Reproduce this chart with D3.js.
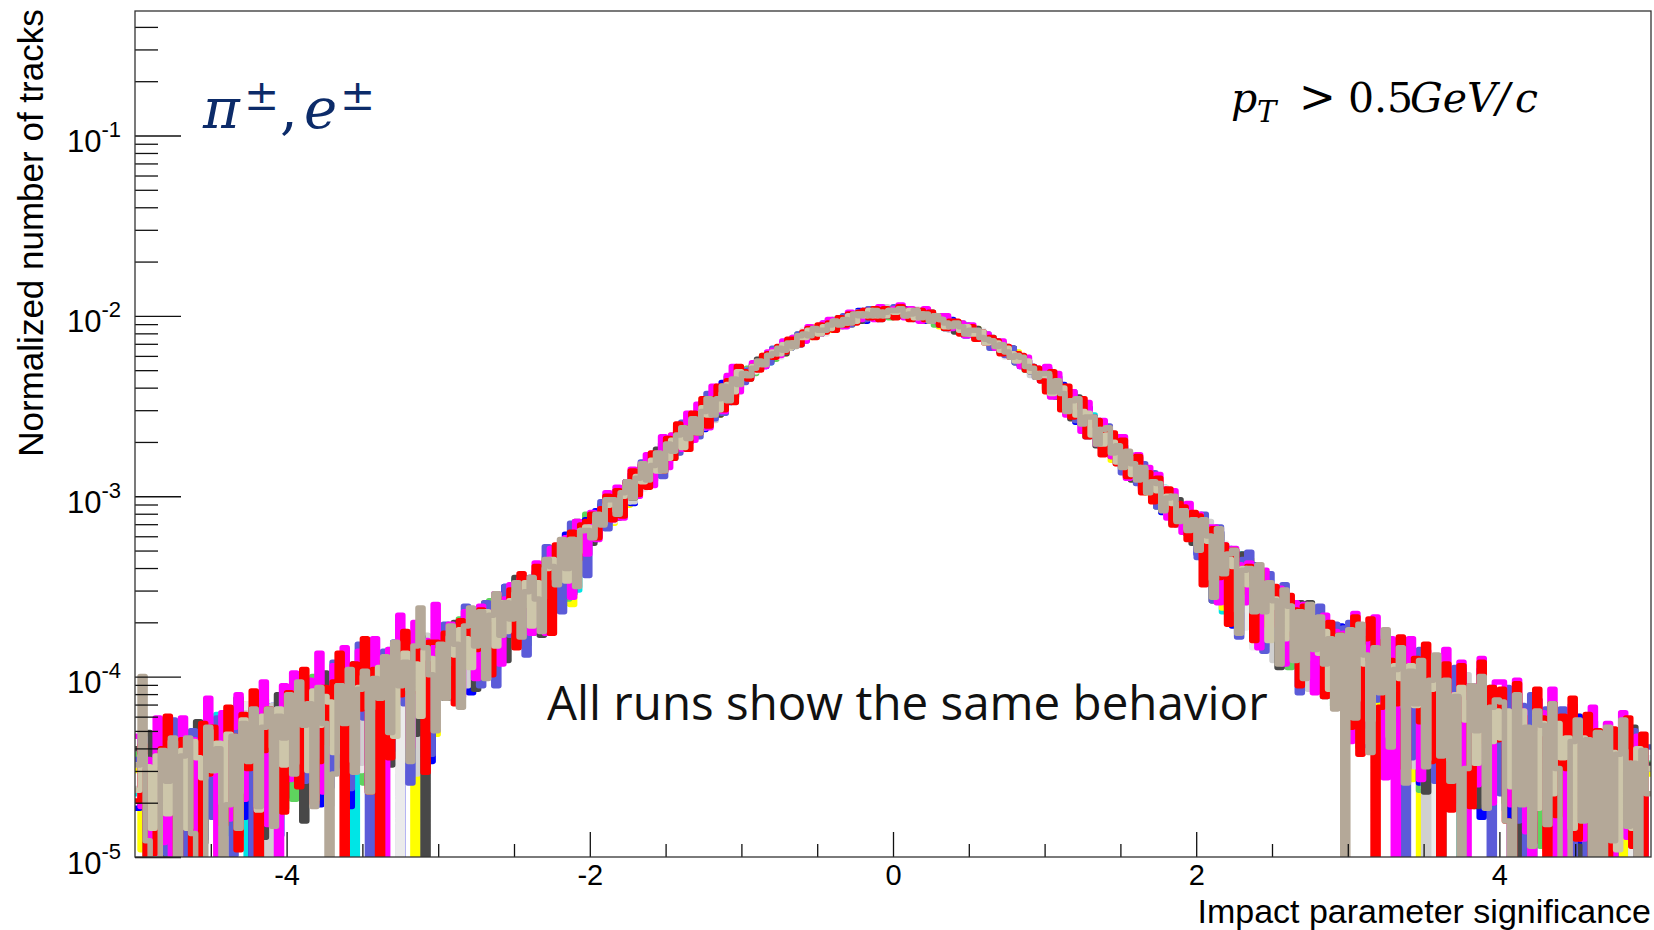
<!DOCTYPE html>
<html>
<head>
<meta charset="utf-8">
<script src="https://cdn.jsdelivr.net/npm/d3@7"></script>
<style>
  body { margin: 0; background: #fff; }
  svg { display: block; }
  .tick line { stroke: #111; stroke-width: 1.3; }
</style>
</head>
<body>
<svg id="chart" width="1654" height="930"></svg>
<script>
// empty bin marker (zero content, drawn down to the frame bottom)
const Z = null;

const xRange = [-5, 5];
const nBins = 300;
const yRange = [1e-5, 0.49];
const xMajorTicks = [-4, -2, 0, 2, 4];
const xMinorTicks = [-4.5, -3.5, -3, -2.5, -1.5, -1, -0.5, 0.5, 1, 1.5, 2.5, 3, 3.5, 4.5];
const yMajorTicks = [1e-5, 1e-4, 1e-3, 1e-2, 1e-1];
const yMinorTicks = [2e-5, 3e-5, 4e-5, 5e-5, 6e-5, 7e-5, 8e-5, 9e-5,
  2e-4, 3e-4, 4e-4, 5e-4, 6e-4, 7e-4, 8e-4, 9e-4,
  2e-3, 3e-3, 4e-3, 5e-3, 6e-3, 7e-3, 8e-3, 9e-3,
  2e-2, 3e-2, 4e-2, 5e-2, 6e-2, 7e-2, 8e-2, 9e-2,
  0.2, 0.3, 0.4];

// common shape of the distribution, log10(value) x 100, one entry per bin
const profile = [
  -457,-456,-455,-454,-453,-452,  -452,-451,-450,-449,-448,-447,
  -447,-446,-444,-444,-443,-442,  -441,-439,-438,-438,-437,-436,
  -434,-433,-432,-431,-430,-429,  -427,-426,-425,-424,-424,-422,
  -421,-420,-419,-418,-417,-416,  -414,-413,-412,-411,-410,-409,
  -407,-406,-405,-403,-402,-401,  -399,-398,-396,-395,-393,-392,
  -390,-388,-386,-385,-383,-381,  -379,-377,-375,-373,-371,-369,
  -367,-365,-363,-360,-358,-356,  -354,-351,-349,-346,-344,-341,
  -338,-335,-332,-328,-325,-322,  -319,-316,-313,-310,-307,-304,
  -302,-299,-296,-293,-290,-287,  -285,-282,-279,-276,-273,-270,
  -268,-265,-262,-259,-256,-253,  -251,-248,-245,-242,-239,-236,
  -234,-232,-230,-227,-225,-223,  -221,-220,-218,-216,-215,-213,
  -211,-210,-209,-208,-207,-206,  -205,-204,-203,-202,-201,-200,
  -200,-199,-199,-199,-198,-198,
  -198,-198,-199,-199,-199,-200,
  -200,-201,-202,-203,-204,-205,  -206,-207,-208,-209,-210,-211,
  -213,-215,-216,-218,-220,-221,  -223,-225,-227,-230,-232,-234,
  -236,-239,-242,-245,-248,-251,  -253,-256,-259,-262,-265,-268,
  -270,-273,-276,-279,-282,-285,  -287,-290,-293,-296,-299,-302,
  -304,-307,-310,-313,-316,-319,  -322,-325,-328,-332,-335,-338,
  -341,-344,-346,-349,-351,-354,  -356,-358,-360,-363,-365,-367,
  -369,-371,-373,-375,-377,-379,  -381,-383,-385,-386,-388,-390,
  -392,-393,-395,-396,-398,-399,  -401,-402,-403,-405,-406,-407,
  -409,-410,-411,-412,-413,-414,  -416,-417,-418,-419,-420,-421,
  -422,-424,-424,-425,-426,-427,  -429,-430,-431,-432,-433,-434,
  -436,-437,-438,-438,-439,-441,  -442,-443,-444,-444,-446,-447,
  -447,-448,-449,-450,-451,-452,  -452,-453,-454,-455,-456,-457
];

// per-run offsets from the common shape, log10 x 100, 30 bins per row (one unit of x)
const devCyan = [
  -8,6,-40,Z,10,-18,4,-52,14,-6,  -38,8,-14,2,-6,-20,22,-4,-46,5,  12,-10,Z,6,-30,16,-5,10,-58,-16,
  10,-16,5,-42,18,-8,-3,12,-22,7,  -12,24,-5,Z,8,-36,3,14,-10,6,  -6,20,-48,4,10,-18,12,-3,8,-14,
  -6,8,-22,4,12,-8,2,-28,6,10,  -4,7,-10,5,-2,14,-8,3,9,-20,  6,-12,10,-2,7,-9,3,-24,-5,6,
  4,-6,8,-3,5,-7,2,6,-4,3,  -5,7,-2,4,-6,3,5,-3,2,-4,  6,-5,3,-2,7,-4,2,5,-6,3,
  2,-1,3,-2,1,-3,2,0,-2,1,  3,-1,-2,2,0,-1,1,2,-2,1,  -1,2,0,-2,1,3,-1,-2,2,0,
  -1,2,0,-2,1,3,-1,-2,2,0,  -3,1,2,-1,0,2,-2,1,-1,3,  1,-2,2,0,-1,2,-3,1,0,2,
  3,-4,5,-2,6,-5,2,4,-3,7,  -4,2,-6,5,3,-2,6,-5,4,-3,  5,-6,2,7,-4,3,-5,6,-2,4,
  8,-10,4,12,-6,-26,-12,3,14,-8,  6,-5,10,-20,7,3,-10,12,-6,8,  -22,4,15,-7,9,-12,6,-3,10,-18,
  -12,14,-6,20,-40,8,-5,12,-10,24,  -34,4,-14,16,-4,10,-46,6,14,-8,  18,-12,Z,9,-38,14,3,-10,20,-5,
  9,-44,4,16,Z,-12,14,-55,7,18,  -30,2,-8,22,-6,-18,11,-6,14,-50,  5,Z,18,-12,8,-60,12,-3,-8,10
];
const devYellow = [
  5,-40,10,-8,Z,14,-50,6,-12,20,  -5,-10,9,-36,3,12,-58,8,-3,16,  -14,6,22,-44,Z,9,-6,14,-48,3,
  -8,12,-3,18,-38,4,9,-46,14,-5,  22,-12,6,-30,11,2,-52,9,18,-6,  10,-16,5,20,-10,Z,13,-5,8,-40,
  9,-5,12,-22,3,8,-26,5,-3,14,  -10,4,11,-6,8,-18,5,7,-8,3,  -20,12,2,-6,9,5,-28,7,-3,10,
  -5,7,-3,6,-8,4,2,-6,8,-2,  5,-7,3,6,-4,-2,7,-5,3,5,  -6,4,8,-3,5,-7,2,6,-4,3,
  -2,1,2,-1,3,-2,0,2,-3,1,  -1,2,0,-2,3,1,-1,-2,2,0,  2,-3,1,0,-1,2,-2,3,1,-1,
  1,-2,3,0,-1,2,-2,1,0,-3,  2,1,-1,2,-2,0,3,-1,1,-2,  0,2,-1,-2,3,1,-2,0,2,-1,
  -4,5,-2,6,-6,3,7,-3,4,-5,  6,-2,3,-7,5,2,-4,6,-3,4,  -5,7,-2,4,-6,5,3,-4,6,-2,
  -8,10,-5,7,14,-24,4,8,-14,6,  16,-7,3,10,-22,5,-4,12,-9,5,  -6,11,8,-28,5,9,-8,14,-5,6,
  14,-12,6,-8,18,-36,9,-5,22,-40,  3,12,-48,8,Z,16,-10,5,13,-32,  8,-44,22,-6,10,-3,-14,18,5,-10,
  -16,8,20,-50,5,Z,14,-10,11,-58,  18,2,-6,10,-38,22,-6,9,-46,13,  Z,-12,16,6,-54,12,-5,20,-8,3
];
const devGreen = [
  14,-6,Z,9,-46,16,3,-12,8,-56,  12,0,-36,20,-8,6,-5,-30,10,-5,  -50,15,5,Z,-10,20,-40,8,3,-44,
  3,-42,14,8,-10,22,-34,5,-8,12,  -6,16,-28,9,2,-48,15,-3,7,10,  -30,6,18,-8,12,-52,5,9,-5,15,
  -10,11,5,-7,15,-3,9,-24,6,-5,  13,2,-20,10,-5,6,11,-26,4,8,  -14,7,14,-4,5,-22,8,3,-7,12,
  6,-4,3,8,-6,2,-5,7,4,-3,  6,-2,-6,5,8,-4,2,6,-5,3,  7,-6,4,-3,5,8,-4,2,-7,5,
  1,3,-2,0,2,-1,-3,2,1,-2,  0,3,-1,1,-2,2,0,-1,3,-2,  1,-2,2,0,3,-1,-2,1,2,-3,
  2,0,-1,3,-2,1,2,-1,-3,2,  1,0,-2,3,1,-1,2,-2,0,1,  -2,3,1,-1,0,2,-3,2,1,-1,
  5,-3,6,-5,2,8,-4,3,-6,5,  4,-3,7,-2,-5,6,3,-4,8,-6,  2,5,-7,4,-3,6,-2,7,-5,3,
  9,-6,12,-24,5,8,-4,11,-20,7,  3,-28,14,5,-7,9,-3,8,-26,6,  -10,15,5,-8,11,-5,12,-30,6,9,
  -6,14,-44,9,5,-14,20,-3,8,-36,  12,17,-8,4,-52,14,6,Z,-12,18,  -38,9,22,-5,-8,12,-46,8,15,-10,
  12,-40,6,22,-10,3,Z,17,-56,8,  14,-5,18,-8,9,-44,5,20,-12,2,  -60,11,Z,15,-6,24,-48,5,-3,9
];
const devBlue = [
  -16,12,5,-56,18,Z,-10,14,6,-60,  9,16,-6,-44,12,4,-30,-5,17,-8,  20,-40,3,Z,11,-50,8,15,-58,5,
  8,-12,20,-5,-10,15,-50,9,3,-32,  18,6,-58,12,-8,17,5,-40,11,14,  -10,22,Z,-6,15,-46,9,3,-54,12,
  5,-10,8,14,-6,11,-30,3,12,-8,  6,9,-24,15,-5,2,12,-7,-20,6,  11,-28,5,8,-3,14,-22,6,-5,9,
  -6,8,4,-5,7,-3,6,2,-8,5,  3,-4,8,-6,2,6,-3,4,7,-5,  -2,6,-7,5,3,-4,8,-6,2,4,
  3,-2,1,2,-3,0,2,-1,3,-2,  1,-3,2,1,-1,0,-2,3,1,-1,  2,-2,0,3,-3,1,2,-1,-2,2,
  -2,1,3,-1,0,2,-3,1,2,-1,  -2,3,0,1,-3,2,1,-2,2,0,  -1,2,-2,3,1,-3,0,2,-1,1,
  6,-5,3,7,-4,5,-6,2,8,-3,  4,6,-5,3,-2,7,-6,4,2,-5,  6,-3,5,-7,4,2,-6,8,-4,3,
  -10,12,6,-8,15,-5,9,-28,4,11,  -6,16,-22,5,8,-12,14,-4,9,-7,  12,-8,3,15,-26,6,11,-20,16,-5,
  18,-8,12,-42,6,15,-10,-12,22,5,  -36,9,-6,24,-48,3,14,Z,-10,16,  -5,20,-34,8,-3,17,-54,11,6,-14,
  -12,17,Z,8,-46,14,20,-6,-10,12,  -58,6,17,-30,3,22,Z,-40,11,-5,  16,-8,-50,9,24,-8,Z,14,-60,6
];
const devOffWhite = [
  8,-14,17,3,-52,11,Z,6,-38,20,  -8,5,14,-58,9,-3,18,-30,-6,12,  -44,8,22,-6,Z,14,-48,5,11,-10,
  -5,15,-10,11,6,-46,14,-8,8,-6,  17,-30,4,20,-40,9,-2,14,-12,5,  18,-8,Z,12,-52,6,15,-5,9,-36,
  11,-8,5,9,-24,6,14,-5,-20,8,  3,-26,12,6,-8,9,-4,11,5,-6,  -28,8,3,12,-6,-18,11,5,-8,6,
  3,6,-5,4,-7,5,2,-4,6,3,  -6,4,5,-3,7,-5,3,-2,6,4,  -4,7,-6,3,5,-2,6,-5,4,-3,
  0,2,-1,3,-2,1,2,-3,0,2,  -1,1,3,-2,0,1,-3,2,-1,2,  1,-2,3,0,-1,2,-3,1,2,-1,
  1,-1,2,-2,3,0,-1,2,1,-2,  3,-1,0,2,-2,1,-1,3,-2,0,  2,1,-3,2,0,-1,3,-2,1,0,
  -3,6,4,-5,3,-6,5,7,-2,4,  -5,6,2,-4,7,-3,5,-6,3,6,  -4,5,-2,7,-6,3,4,-5,6,-3,
  6,-22,9,5,-8,12,-6,8,11,-24,  5,-30,8,12,-5,7,-20,15,3,-8,  9,-6,14,-26,5,8,-12,11,-3,8,
  -10,17,5,-40,11,-5,20,-6,9,-44,  15,3,-30,18,6,-50,Z,12,-5,8,  -36,22,-8,11,-3,-46,14,5,-12,17,
  15,-6,11,-52,Z,18,-28,5,14,-40,  8,-8,-56,12,17,-5,9,-46,6,15,  Z,-30,20,-8,11,-6,-60,15,-5,12
];
const devLightGrey = [
  -5,15,-28,8,20,-44,6,Z,12,-10,  3,17,-56,11,-6,15,-50,5,9,-8,  -36,18,-5,12,-58,8,Z,15,-10,6,
  14,-6,9,-38,18,5,-12,15,-52,8,  12,-5,17,-10,-36,14,-46,6,11,-8,  20,-30,8,-3,15,-56,9,18,-6,12,
  -8,6,11,-5,8,-24,12,5,-6,9,  -28,8,3,-8,12,5,-20,6,9,-5,  8,-26,14,3,-6,9,-8,12,-3,5,
  5,-3,7,-6,4,6,-2,5,-7,3,  6,-4,2,7,-5,4,3,-6,5,-2,  4,-5,6,3,-7,5,-3,4,6,-4,
  -1,2,0,-2,3,1,-2,0,2,-1,  3,-2,1,0,-1,2,-2,1,3,-1,  0,2,-1,-3,2,1,0,-2,3,1,
  2,-2,1,0,-1,3,-2,2,-1,1,  0,-3,2,1,-1,2,0,-2,1,2,  -1,3,-2,0,2,-1,1,-3,2,0,
  4,-6,3,5,-4,7,-3,2,6,-5,  3,-2,6,4,-6,5,-3,7,-4,2,  6,-5,3,-4,7,2,-6,4,5,-3,
  -6,9,14,-26,6,-5,12,8,-22,11,  -8,6,14,-6,9,-28,5,8,-10,12,  -5,11,-30,8,3,-10,14,-6,9,5,
  12,-38,8,18,-10,5,14,-50,-6,11,  17,-8,6,-40,20,Z,-12,9,15,-34,  6,-46,12,22,-8,-5,9,-30,17,-6,
  -8,18,-36,6,12,Z,-44,15,9,-12,  20,-58,5,-10,14,-10,18,3,-40,8,  -52,Z,12,17,-6,-30,22,-36,8,-60
];
const devDarkGrey = [
  17,-8,24,-36,6,20,-60,11,Z,15,  -12,5,22,-46,8,-5,14,-10,-40,9,  26,-30,3,18,Z,-56,12,-6,20,-38,
  -10,18,5,-56,12,8,-36,22,-6,11,  -3,15,-30,20,3,-10,14,-58,8,17,  -44,11,24,-5,9,-34,18,Z,6,-12,
  12,-24,6,15,-8,5,11,-30,9,3,  -8,14,6,-26,8,15,-6,5,-22,9,  -28,8,12,-5,11,-10,3,14,-8,6,
  -7,5,8,-4,6,-8,3,7,-5,6,  2,-7,5,8,-3,4,-6,7,2,-4,  6,-5,8,-3,4,-7,5,3,-6,7,
  2,-3,1,3,-1,-2,2,1,-3,2,  0,1,-2,3,-1,-2,2,0,-1,3,  -2,1,2,-3,0,2,-1,3,-2,1,
  -2,3,-1,1,2,-2,0,3,-1,-2,  2,1,-3,0,2,-1,3,-2,1,-1,  2,-2,1,3,-3,0,2,-1,1,-2,
  -5,7,-3,6,4,-6,8,-4,3,6,  -7,5,2,-5,8,-3,6,-6,4,5,  -4,7,-6,3,5,-5,8,-2,6,-7,
  11,-8,6,-26,15,5,-10,12,-6,17,  8,-24,5,14,-8,9,-30,6,11,-5,  14,-20,18,-6,8,-28,12,5,-12,15,
  -34,20,8,-12,-5,17,-6,24,5,-44,  12,22,-10,6,15,-52,9,18,Z,-6,  17,-30,24,-8,11,-48,-10,14,6,-36,
  20,-12,6,Z,15,-44,11,24,-8,3,  -6,17,-36,8,22,-50,Z,12,5,-12,  18,-58,9,-5,15,-6,26,-40,Z,8
];
const devSlateBlue = [
  11,22,-30,6,Z,15,-46,27,-6,9,  -56,17,5,-12,12,-34,20,-8,3,-60,  18,-10,14,Z,24,-38,6,-50,12,8,
  15,-5,24,-34,9,18,-14,6,-42,26,  -8,12,-48,5,30,-12,Z,17,-6,20,  -36,9,28,-14,-60,22,-3,14,-50,11,
  -12,17,8,-28,11,20,-10,6,-30,14,  5,-36,11,15,-14,8,12,-32,9,5,  -10,18,-6,12,-26,9,17,-8,6,-22,
  8,-6,10,-8,4,7,-9,5,8,-5,  9,-7,4,6,-10,8,3,-6,9,-4,  7,-8,5,10,-6,4,-9,8,-5,6,
  -3,2,3,-2,1,-3,3,1,-2,2,  -1,3,-3,1,2,-2,3,-1,-2,2,  3,-3,1,2,-2,3,-1,-3,2,1,
  3,-2,1,2,-3,1,3,-2,0,2,  -3,2,1,-2,3,-1,-2,2,3,-3,  1,2,-2,3,-3,1,2,-1,-2,3,
  7,-4,8,-6,5,9,-5,4,-8,6,  7,-5,9,-3,6,-8,5,7,-6,8,  -4,9,-7,5,6,-8,4,7,-5,8,
  -12,15,9,-26,18,-8,12,6,-32,14,  20,-10,8,-28,17,11,-12,18,-6,12,  -36,14,8,-12,20,-24,9,15,-8,17,
  22,-40,11,-8,24,-14,15,6,-50,20,  9,Z,-36,14,26,-12,8,-44,20,5,  -30,24,-10,9,-48,15,28,-10,Z,12,
  -36,24,9,-48,17,Z,26,-30,6,20,  -6,-40,24,11,-56,18,8,Z,22,-14,  14,-50,-8,20,6,-34,24,Z,-12,18
];
const devMagenta = [
  24,-16,9,Z,30,-40,17,-56,6,26,  -8,12,-46,18,32,-10,Z,22,-38,11,  28,-30,-5,15,-6,30,-50,9,Z,24,
  -30,28,15,-8,22,-5,34,-44,12,24,  -12,32,8,-36,26,18,-52,30,14,Z,  20,-10,36,6,-40,28,-3,15,-30,32,
  11,-20,15,6,-28,17,5,-24,14,9,  -8,15,-26,8,14,-8,12,6,-22,14,  8,-30,15,-6,9,12,-24,14,5,-10,
  10,-8,6,12,-6,9,-10,7,11,-7,  8,10,-9,6,12,-8,7,9,-6,11,  -7,10,8,-9,12,6,-8,9,11,-6,
  3,-2,4,1,-3,3,2,-2,4,-1,  3,2,-3,4,1,-2,3,4,-1,2,  -3,4,2,-2,3,1,-3,4,2,-1,
  2,4,-2,3,1,-3,4,2,-1,3,  4,-2,2,3,-3,4,1,-2,3,2,  -2,4,3,-1,2,-3,4,1,3,-2,
  8,-6,10,5,-7,9,6,-8,11,4,  -6,10,7,-5,9,12,-8,6,10,-7,  9,-5,11,6,-8,10,4,-7,12,6,
  12,-8,11,15,-24,11,-20,15,8,-10,  14,5,-28,17,9,-8,14,-26,11,12,  -10,15,6,-30,11,17,-8,11,-22,14,
  -44,28,-6,20,-30,32,11,-54,24,Z,  15,-38,30,9,-46,26,-8,18,-28,32,  8,-50,28,Z,17,-36,34,12,-44,24,
  26,-10,-40,30,14,-52,Z,24,18,-34,  32,Z,12,-56,28,15,-44,-5,30,9,  -48,24,Z,17,32,-36,-8,22,11,-58
];
const devRed = [
  -12,18,Z,-44,-20,12,30,-6,-50,14,  8,-56,Z,20,-10,16,-5,-40,24,6,  -58,17,-14,28,Z,-8,14,11,-3,-46,
  18,-10,-36,28,9,-48,-26,14,-18,15,  30,Z,-12,20,-6,32,-54,13,Z,15,  -40,18,-8,26,-10,14,-5,-58,12,11,
  -10,12,6,-30,14,-12,9,-8,12,5,  -28,13,8,-6,11,-24,15,5,-8,12,  -6,10,-32,14,3,-10,12,-7,9,8,
  9,-7,6,10,-6,7,-9,6,10,-6,  7,-8,9,5,-7,8,-6,10,6,-9,  8,-6,10,-8,5,9,-7,6,-9,8,
  3,-3,2,-3,3,2,-2,3,-2,3,  2,-3,2,3,-3,3,-2,2,-3,3,  -2,3,-3,2,3,-2,3,-3,2,-2,
  -3,3,2,-3,2,3,-2,3,2,-2,  -3,2,3,-3,2,3,-3,2,-2,3,  2,-3,3,-2,2,3,-3,2,3,-2,
  -6,8,5,-7,9,-5,6,10,-8,5,  7,-9,5,8,-6,10,-7,5,9,-8,  6,-7,9,-5,8,-9,6,7,-8,10,
  11,-24,8,14,-10,11,-30,14,-8,9,  12,-26,15,6,-12,13,5,-10,14,8,  -32,14,-6,11,8,-28,15,-10,11,-6,
  -36,26,-48,17,30,Z,-16,22,12,-10,  28,-44,15,20,-14,30,-34,20,Z,24,  -56,-6,26,14,-50,-12,32,-14,20,-8,
  22,-50,Z,28,11,-14,-56,30,15,Z,  24,-36,20,-8,32,-46,14,26,Z,18,  -5,-60,22,-12,12,30,-40,-10,24,-52
];
const devKhaki = [
  -6,12,5,-30,9,3,-24,15,-5,8,  -36,11,2,-10,14,-8,6,-28,9,5,  -26,14,-3,8,-40,11,5,-8,12,-20,
  8,-22,11,3,-28,14,-6,9,5,-24,  12,-3,8,-34,6,11,-8,3,12,-5,  9,-30,6,14,-8,5,-26,9,3,-6,
  5,-6,8,-3,9,2,-16,6,-5,9,  3,-14,8,-10,5,6,-3,8,-18,3,  -8,6,9,-5,3,-12,8,-3,6,5,
  -3,4,-2,5,3,-4,2,5,-3,4,  -2,3,5,-4,2,-3,4,3,-5,2,  4,-3,5,-2,3,-4,2,4,-3,5,
  1,-1,2,0,-2,1,1,-1,2,-2,  0,1,-1,2,0,-2,1,-1,2,0,  -1,2,-2,1,0,2,-1,1,-2,1,
  0,1,-1,2,-2,1,0,-1,2,1,  -2,0,1,-1,2,-1,0,2,-2,1,  1,-1,2,0,-2,1,2,-1,0,1,
  3,-4,2,5,-3,4,-2,3,5,-4,  2,-3,4,3,-5,2,4,-3,3,5,  -4,3,2,-5,4,3,-3,5,-2,4,
  -5,8,3,-14,9,-3,6,5,-18,9,  2,-6,8,5,-20,6,3,-12,8,-3,  6,-16,9,3,-6,8,-22,6,-10,5,
  9,-20,12,3,-26,14,-5,8,-30,11,  5,-10,15,-6,9,-34,6,11,-8,5,  -28,9,14,-3,8,-24,12,5,-10,8,
  -5,11,-30,8,14,-10,5,-36,12,6,  -26,15,-3,9,-40,8,12,-8,5,-28,  14,-6,9,-44,11,5,-30,15,-8,6
];
const devTan = [
  8,56,-36,Z,-48,11,-6,17,-58,5,  14,-40,Z,-60,16,-8,3,Z,-30,6,  -46,12,-10,18,-38,5,14,-52,8,-5,
  17,-28,22,-3,9,-50,15,-6,Z,-36,  12,-10,18,-40,5,14,-54,8,-5,17,  -26,22,-3,9,-48,15,34,11,-6,-38,
  8,-24,14,3,-34,9,17,-6,11,-28,  5,15,-10,6,-5,12,-20,3,9,-6,  -26,11,5,-8,14,-5,8,-22,6,3,
  -4,6,-3,8,5,-6,4,7,-5,3,  8,-4,2,6,-7,5,-2,4,6,-3,  5,-6,3,7,-4,2,6,-5,4,-2,
  2,-1,1,2,-2,1,0,2,-1,1,  -2,2,1,-1,2,0,-1,1,2,-1,  1,-2,2,0,1,-1,2,-1,0,1,
  1,2,-1,0,2,-1,1,-2,2,1,  0,-1,2,1,-2,1,2,-1,0,1,  -1,2,0,-2,1,2,-1,1,-2,2,
  4,-3,6,2,-5,4,7,-4,3,6,  -6,5,8,-3,4,-5,7,3,-4,6,  -5,4,6,-6,3,7,-4,5,-3,6,
  -8,12,6,-24,17,-5,9,14,-30,8,  11,-10,18,-6,12,5,-28,15,8,-20,  9,-26,17,-6,14,-10,6,-32,11,Z,
  18,-30,24,8,-44,15,-8,28,-36,9,  22,-52,12,-5,20,-38,11,26,-28,15,  -40,8,Z,-30,17,-6,24,-48,9,14,
  15,-50,Z,22,-38,6,-58,18,11,-44,  24,-10,Z,-60,8,20,-34,12,-52,17,  Z,22,-40,9,28,-30,6,-56,15,-8
];

// drawing order: first entry at the bottom, last on top
const runs = [
  { color: '#00e5e5', dev: devCyan },
  { color: '#ffff00', dev: devYellow },
  { color: '#5ed35e', dev: devGreen },
  { color: '#0000ff', dev: devBlue },
  { color: '#ebebeb', dev: devOffWhite },
  { color: '#d0d0d0', dev: devLightGrey },
  { color: '#484848', dev: devDarkGrey },
  { color: '#5b5bd8', dev: devSlateBlue },
  { color: '#ff00ff', dev: devMagenta },
  { color: '#ff0000', dev: devRed },
  { color: '#cdc6aa', dev: devKhaki },
  { color: '#b4a898', dev: devTan }
];

const frame = { left: 135, top: 11, right: 1651, bottom: 857 };
const svg = d3.select('#chart');

const x = d3.scaleLinear().domain(xRange).range([frame.left, frame.right]);
const y = d3.scaleLog().domain(yRange).range([frame.bottom, frame.top]);

svg.append('defs').append('clipPath').attr('id', 'plotClip')
  .append('rect')
  .attr('x', frame.left)
  .attr('y', frame.top)
  .attr('width', frame.right - frame.left)
  .attr('height', frame.bottom - frame.top);

// histogram outline as steps; empty bins fall below the frame and get clipped
const binWidth = (xRange[1] - xRange[0]) / nBins;
function histPoints (dev) {
  let pts = [];
  for (let i = 0; i < nBins; i++) {
    let lo = xRange[0] + i * binWidth;
    let v = dev[i] === Z ? 0 : Math.pow(10, (profile[i] + dev[i]) / 100);
    pts.push([lo, v], [lo + binWidth, v]);
  }
  return pts;
}
const line = d3.line()
  .x(d => x(d[0]))
  .y(d => d[1] > 0 ? y(d[1]) : frame.bottom + 30);

let bad = runs.filter(r => r.dev.length !== nBins).map(r => r.color + ':' + r.dev.length);
if (profile.length !== nBins) bad.push('profile:' + profile.length);

const plot = svg.append('g').attr('clip-path', 'url(#plotClip)');
plot.selectAll('path.run')
  .data(runs)
  .join('path')
  .classed('run', true)
  .attr('d', d => line(histPoints(d.dev)))
  .attr('fill', 'none')
  .attr('stroke', d => d.color)
  .attr('stroke-width', 5.5)
  .attr('stroke-linejoin', 'round');

// axes
const tickFont = '"Liberation Sans", Arial, Helvetica, sans-serif';

const gxMinor = svg.append('g')
  .attr('transform', `translate(0,${frame.bottom})`)
  .call(d3.axisBottom(x).tickValues(xMinorTicks).tickSize(-13).tickFormat(''));
const gx = svg.append('g')
  .attr('transform', `translate(0,${frame.bottom})`)
  .call(d3.axisBottom(x).tickValues(xMajorTicks).tickSize(-25).tickPadding(7)
    .tickFormat(d => String(d)));
gx.selectAll('text')
  .attr('font-family', tickFont)
  .attr('font-size', 29)
  .attr('fill', '#000');

const gyMinor = svg.append('g')
  .attr('transform', `translate(${frame.left},0)`)
  .call(d3.axisLeft(y).tickValues(yMinorTicks).tickSize(-23).tickFormat(''));
const gy = svg.append('g')
  .attr('transform', `translate(${frame.left},0)`)
  .call(d3.axisLeft(y).tickValues(yMajorTicks).tickSize(-46).tickPadding(14).tickFormat(''));
gy.selectAll('.tick text')
  .attr('font-family', tickFont)
  .attr('font-size', 31)
  .attr('fill', '#000')
  .attr('dy', 16)
  .each(function (d) {
    let t = d3.select(this);
    t.append('tspan').text('10');
    t.append('tspan').attr('font-size', 22).attr('dy', -15).text(String(Math.round(Math.log10(d))));
  });

[gxMinor, gx, gyMinor, gy].forEach(g => g.select('.domain').remove());

svg.append('rect')
  .attr('x', frame.left)
  .attr('y', frame.top)
  .attr('width', frame.right - frame.left)
  .attr('height', frame.bottom - frame.top)
  .attr('fill', 'none')
  .attr('stroke', '#333')
  .attr('stroke-width', 1.3);

// titles
svg.append('text')
  .attr('transform', 'translate(43,233) rotate(-90)')
  .attr('text-anchor', 'middle')
  .attr('font-family', tickFont)
  .attr('font-size', 35)
  .text('Normalized number of tracks');

svg.append('text')
  .attr('x', 1651)
  .attr('y', 922.5)
  .attr('text-anchor', 'end')
  .attr('font-family', tickFont)
  .attr('font-size', 34)
  .text('Impact parameter significance');

// annotations
const mathFont = '"DejaVu Serif", "Liberation Serif", serif';
const species = svg.append('text')
  .attr('y', 128)
  .attr('font-family', mathFont)
  .attr('font-style', 'italic')
  .attr('font-size', 56)
  .attr('fill', '#0c2b69');
species.append('tspan').attr('x', 203).text('π');
species.append('tspan').attr('x', 244).attr('dy', -18).attr('font-size', 42).attr('font-style', 'normal').text('±');
species.append('tspan').attr('x', 280).attr('dy', 18).attr('font-style', 'normal').text(',');
species.append('tspan').attr('x', 304).text('e');
species.append('tspan').attr('x', 340).attr('dy', -18).attr('font-size', 42).attr('font-style', 'normal').text('±');

const cut = svg.append('text')
  .attr('y', 112)
  .attr('font-family', mathFont)
  .attr('font-size', 41)
  .attr('fill', '#000');
cut.append('tspan').attr('x', 1231).attr('font-style', 'italic').text('p');
cut.append('tspan').attr('x', 1257).attr('dy', 10).attr('font-size', 29).attr('font-style', 'italic').text('T');
cut.append('tspan').attr('x', 1299).attr('dy', -10).attr('font-size', 44).text('>');
cut.append('tspan').attr('x', 1348).text('0.5');
cut.append('tspan').attr('x', 1410).attr('font-style', 'italic').text('GeV');
cut.append('tspan').attr('x', 1496).attr('font-style', 'italic').text('/');
cut.append('tspan').attr('x', 1515).attr('font-style', 'italic').text('c');

svg.append('text')
  .attr('x', 547)
  .attr('y', 720)
  .attr('font-family', '"Open Sans", "Noto Sans", sans-serif')
  .attr('font-size', 47.5)
  .attr('fill', '#111')
  .text('All runs show the same behavior');

if (bad.length) {
  svg.append('text').attr('x', 600).attr('y', 200).attr('font-size', 20).attr('fill', 'red')
    .text('length mismatch ' + bad.join(' '));
}
</script>
</body>
</html>
